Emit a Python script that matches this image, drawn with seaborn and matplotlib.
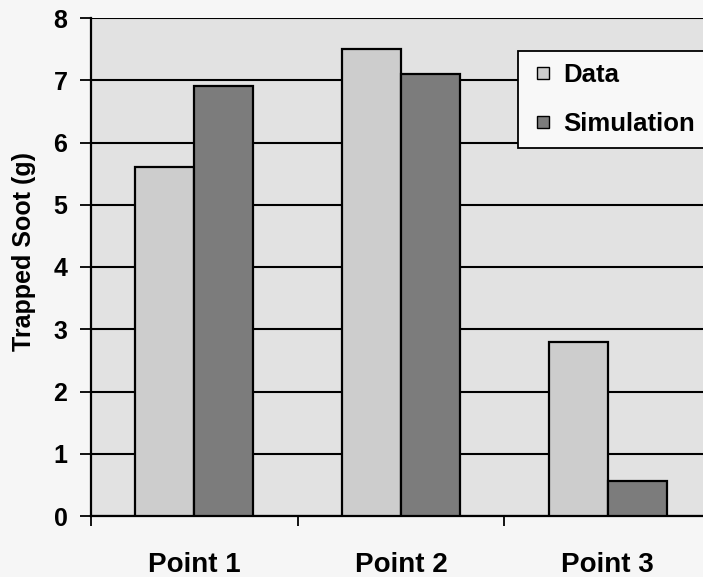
import matplotlib
matplotlib.use("Agg")
import matplotlib.pyplot as plt
from matplotlib.lines import Line2D
import seaborn as sns
import pandas as pd

# Trapped soot mass per operating point: measured vs simulated
points = ["Point 1", "Point 2", "Point 3"]
data_vals = [5.6, 7.5, 2.8]
sim_vals = [6.9, 7.1, 0.57]
series = ["Data", "Simulation"]
colors = ["#cdcdcd", "#7c7c7c"]
y_ticks = [0, 1, 2, 3, 4, 5, 6, 7, 8]

df = pd.DataFrame({
    "point": points * 2,
    "soot": data_vals + sim_vals,
    "series": [series[0]] * len(points) + [series[1]] * len(points),
})

sns.set_theme(style="white")
plt.rcParams["font.family"] = ["Liberation Sans", "DejaVu Sans"]
plt.rcParams["font.weight"] = "bold"
for key in ["text.color", "axes.labelcolor", "xtick.color", "ytick.color",
            "xtick.labelcolor", "ytick.labelcolor"]:
    plt.rcParams[key] = "black"

fig = plt.figure(figsize=(7.03, 5.77), dpi=100, facecolor="#f6f6f6")
ax = fig.add_axes([91 / 703, 1 - 516 / 577, 620 / 703, 498 / 577])
ax.set_facecolor("#e2e2e2")

sns.barplot(
    data=df, x="point", y="soot", hue="series", order=points,
    hue_order=series, palette=colors, width=0.572,
    edgecolor="black", linewidth=1.6, ax=ax, zorder=3, legend=False,
)

ax.set_ylim(0, 8)
ax.set_xlim(-0.5, 2.5)
ax.set_yticks(y_ticks)
ax.set_yticklabels([str(v) for v in y_ticks], fontsize=18, fontweight="bold",
                   color="black")
ax.yaxis.grid(True, color="black", linewidth=1.5, zorder=1)
ax.set_axisbelow(True)

# category labels centred, tick marks on category boundaries
ax.set_xticks(range(len(points)))
ax.set_xticklabels(points, fontsize=20, fontweight="bold", color="black")
ax.set_xticks([-0.5, 0.5, 1.5], minor=True)
ax.tick_params(axis="x", which="major", length=0, pad=26)
ax.tick_params(axis="x", which="minor", length=7, width=1.3, color="black",
               direction="out", bottom=True)
ax.tick_params(axis="y", length=8, width=1.3, color="black", direction="out",
               left=True, pad=9)

for side in ["top", "right"]:
    ax.spines[side].set_visible(False)
for side in ["left", "bottom"]:
    ax.spines[side].set_color("black")
    ax.spines[side].set_linewidth(1.6)

ax.set_xlabel("")
ax.set_ylabel("Trapped Soot (g)", fontsize=18, fontweight="bold", color="black")
ax.yaxis.set_label_coords(-0.089, 0.532)

handles = [
    Line2D([], [], marker="s", linestyle="", markersize=8.6,
           markerfacecolor=c, markeredgecolor="black", markeredgewidth=1.0)
    for c in colors
]
leg = ax.legend(
    handles, series,
    loc="upper left", bbox_to_anchor=(0.689, 0.934), borderaxespad=0,
    frameon=True, fancybox=False, edgecolor="black", facecolor="#f8f8f8",
    framealpha=1, prop={"size": 18.5, "weight": "bold"}, handlelength=1.05,
    handletextpad=0.26, labelspacing=1.0, borderpad=0.46,
)
leg.get_frame().set_linewidth(1.3)
for t in leg.get_texts():
    t.set_color("black")

fig.savefig("out.png", dpi=100, facecolor=fig.get_facecolor())
